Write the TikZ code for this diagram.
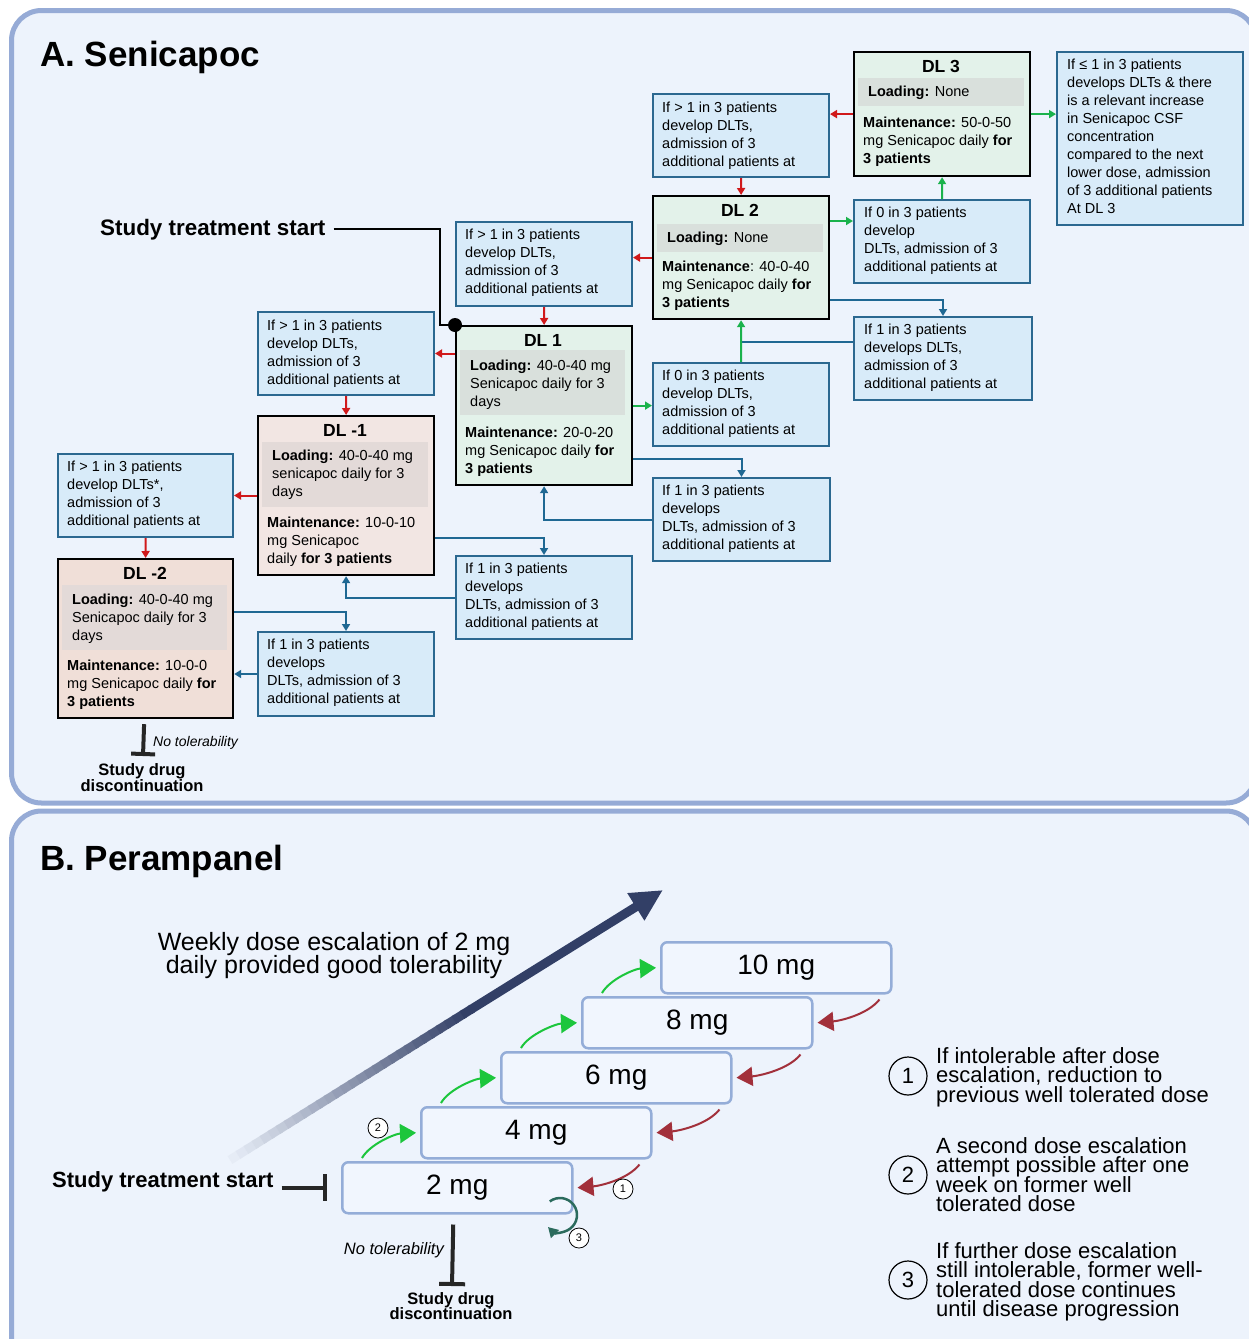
\documentclass[tikz,border=0pt]{standalone}
\usepackage{fontspec}
\setmainfont{Liberation Sans}
\usetikzlibrary{arrows.meta,calc}
\definecolor{panelbg}{HTML}{EDF3FC}
\definecolor{panelbd}{HTML}{96ABD6}
\definecolor{bluefill}{HTML}{D8EBF9}
\definecolor{bluebd}{HTML}{2B6890}
\definecolor{dlgreen}{HTML}{E3F2EA}
\definecolor{dlpink}{HTML}{F2E6E3}
\definecolor{dlpinkb}{HTML}{F0DFD8}
\definecolor{graygreen}{HTML}{D9E0DC}
\definecolor{graypink}{HTML}{E3DAD8}
\definecolor{redc}{HTML}{D0191B}
\definecolor{greenc}{HTML}{1AB24C}
\definecolor{bluec}{HTML}{1F6893}
\definecolor{navy}{HTML}{323F66}
\definecolor{doseb}{HTML}{94ADD8}
\definecolor{dosefill}{HTML}{F1F6FE}
\definecolor{garrow}{HTML}{1CC63C}
\definecolor{rarrow}{HTML}{A2303B}
\definecolor{tealc}{HTML}{2B6B5D}
\tikzset{
  panel/.style={draw=panelbd,line width=5pt,fill=panelbg,rounded corners=30pt},
  bbox/.style={draw=bluebd,line width=2pt,fill=bluefill,anchor=north west,inner sep=0pt},
  dlg/.style={draw=black,line width=2.2pt,fill=dlgreen,anchor=north west,inner sep=0pt,minimum width=176pt},
  dlp/.style={draw=black,line width=2.2pt,fill=dlpink,anchor=north west,inner sep=0pt,minimum width=176pt},
  grayg/.style={fill=graygreen,anchor=north west,inner sep=0pt,minimum width=166pt},
  grayp/.style={fill=graypink,anchor=north west,inner sep=0pt,minimum width=166pt},
  btext/.style={anchor=north west,inner sep=0pt,align=left,font={\fontsize{14.5}{18}\selectfont}},
  dltitle/.style={anchor=base,inner sep=0pt,font={\fontsize{17.5}{20}\selectfont\bfseries}},
  redarr/.style={draw=redc,line width=2pt,-{Triangle[length=7pt,width=8pt]}},
  grnarr/.style={draw=greenc,line width=2pt,-{Triangle[length=7pt,width=8pt]}},
  bluarr/.style={draw=bluec,line width=2pt,-{Triangle[length=7pt,width=8pt]}},
  bluline/.style={draw=bluec,line width=2pt},
  dosebox/.style={draw=doseb,line width=2.5pt,fill=dosefill,rounded corners=6pt,anchor=north west,
    minimum width=230pt,minimum height=51pt,inner sep=0pt,font={\fontsize{28}{30}\selectfont}},
  gup/.style={draw=garrow,line width=2pt,-{Triangle[length=16pt,width=19pt]}},
  rdown/.style={draw=rarrow,line width=2pt,-{Triangle[length=16pt,width=19pt]}},
  numc/.style={circle,draw=black,line width=1.2pt,minimum size=38pt,inner sep=0pt,font={\fontsize{22}{22}\selectfont}},
  numcs/.style={circle,draw=black,line width=0.8pt,fill=white,minimum size=20pt,inner sep=0pt,font={\fontsize{11}{11}\selectfont}},
  expl/.style={anchor=north west,inner sep=0pt,align=left,font={\fontsize{22}{19.6}\selectfont\lineskiplimit=-50pt}},
  stopbar/.style={draw=black!85,line width=4pt,-{Bar[width=26pt]}}
}
\begin{document}
\begin{tikzpicture}[x=1pt,y=-1pt]
\useasboundingbox[fill=white] (0,0) rectangle (1248,1339);
\path[panel] (11.5,10.5) rectangle (1256,803);
\path[panel] (11.5,811) rectangle (1256,1370);

% ---------- Panel A ----------
\node[anchor=base west,inner sep=0pt,font={\fontsize{35}{40}\selectfont\bfseries}] (titleA) at (40,66) {A. Senicapoc};

% DL boxes
\node[dlg,minimum height=124pt] (dl3) at (853,51) {};
\node[grayg,minimum height=28pt] (dl3g) at (858,78) {};
\node[dltitle] (dl3t) at (941,72) {DL 3};
\node[btext] (dl3l) at (868,85.5) {\textbf{Loading:} None};
\node[btext] (dl3m) at (863,116.5) {\textbf{Maintenance:} 50-0-50\\mg Senicapoc daily \textbf{for}\\\textbf{3 patients}};

\node[dlg,minimum height=123pt] (dl2) at (652,195) {};
\node[grayg,minimum height=28pt] (dl2g) at (657,224) {};
\node[dltitle] (dl2t) at (740,216) {DL 2};
\node[btext] (dl2l) at (667,231.5) {\textbf{Loading:} None};
\node[btext] (dl2m) at (662,260.5) {\textbf{Maintenance}: 40-0-40\\mg Senicapoc daily \textbf{for}\\\textbf{3 patients}};

\node[dlg,minimum height=159pt] (dl1) at (455,325) {};
\node[grayg,minimum height=65pt,minimum width=165pt] (dl1g) at (460,350) {};
\node[dltitle] (dl1t) at (543,346) {DL 1};
\node[btext] (dl1l) at (470,359.5) {\textbf{Loading:} 40-0-40 mg\\Senicapoc daily for 3\\days};
\node[btext] (dl1m) at (465,426.5) {\textbf{Maintenance:} 20-0-20\\mg Senicapoc daily \textbf{for}\\\textbf{3 patients}};

\node[dlp,minimum height=159pt] (dlm1) at (257,415) {};
\node[grayp,minimum height=65pt] (dlm1g) at (262,442) {};
\node[dltitle] (dlm1t) at (345,436) {DL -1};
\node[btext] (dlm1l) at (272,449.5) {\textbf{Loading:} 40-0-40 mg\\senicapoc daily for 3\\days};
\node[btext] (dlm1m) at (267,516.5) {\textbf{Maintenance:} 10-0-10\\mg Senicapoc\\daily \textbf{for 3 patients}};

\node[dlp,fill=dlpinkb,minimum height=159pt,minimum width=175pt] (dlm2) at (57,558) {};
\node[grayp,minimum height=65pt,minimum width=165pt] (dlm2g) at (62,585) {};
\node[dltitle] (dlm2t) at (145,579) {DL -2};
\node[btext] (dlm2l) at (72,593.5) {\textbf{Loading:} 40-0-40 mg\\Senicapoc daily for 3\\days};
\node[btext] (dlm2m) at (67,659.5) {\textbf{Maintenance:} 10-0-0\\mg Senicapoc daily \textbf{for}\\\textbf{3 patients}};

% Blue condition boxes
\node[bbox,minimum width=186pt,minimum height=173pt] (b3r) at (1056,51) {};
\node[btext] (b3rt) at (1067,58.5) {If ≤ 1 in 3 patients\\develops DLTs \& there\\is a relevant increase\\in Senicapoc CSF\\concentration\\compared to the next\\lower dose, admission\\of 3 additional patients\\At DL 3};

\node[bbox,minimum width=176pt,minimum height=83pt] (b3l) at (652,93) {};
\node[btext] (b3lt) at (662,101.5) {If > 1 in 3 patients\\develop DLTs,\\admission of 3\\additional patients at};

\node[bbox,minimum width=176pt,minimum height=83pt] (b2r0) at (853,199) {};
\node[btext] (b2r0t) at (864,206.5) {If 0 in 3 patients\\develop\\DLTs, admission of 3\\additional patients at};

\node[bbox,minimum width=178pt,minimum height=83pt] (b2r1) at (853,316) {};
\node[btext] (b2r1t) at (864,323.5) {If 1 in 3 patients\\develops DLTs,\\admission of 3\\additional patients at};

\node[bbox,minimum width=176pt,minimum height=84pt] (b2l) at (455,221) {};
\node[btext] (b2lt) at (465,228.5) {If > 1 in 3 patients\\develop DLTs,\\admission of 3\\additional patients at};

\node[bbox,minimum width=176pt,minimum height=83pt] (b1r0) at (652,362) {};
\node[btext] (b1r0t) at (662,369.5) {If 0 in 3 patients\\develop DLTs,\\admission of 3\\additional patients at};

\node[bbox,minimum width=177pt,minimum height=83pt] (b1r1) at (652,477) {};
\node[btext] (b1r1t) at (662,484.5) {If 1 in 3 patients\\develops\\DLTs, admission of 3\\additional patients at};

\node[bbox,minimum width=176pt,minimum height=83pt] (b1l) at (257,311) {};
\node[btext] (b1lt) at (267,319.5) {If > 1 in 3 patients\\develop DLTs,\\admission of 3\\additional patients at};

\node[bbox,minimum width=176pt,minimum height=83pt] (bm1r) at (455,555) {};
\node[btext] (bm1rt) at (465,562.5) {If 1 in 3 patients\\develops\\DLTs, admission of 3\\additional patients at};

\node[bbox,minimum width=175pt,minimum height=83pt] (bm1l) at (57,453) {};
\node[btext] (bm1lt) at (67,460.5) {If > 1 in 3 patients\\develop DLTs*,\\admission of 3\\additional patients at};

\node[bbox,minimum width=176pt,minimum height=84pt] (bm2r) at (257,631) {};
\node[btext] (bm2rt) at (267,638.5) {If 1 in 3 patients\\develops\\DLTs, admission of 3\\additional patients at};

% red connectors
\draw[redarr] (dl3.west) -- (dl3.west -| b3l.east);
\draw[redarr] (b3l.south) -- (dl2.north);
\draw[redarr] (dl2.west) -- (dl2.west -| b2l.east);
\draw[redarr] (b2l.south) -- (dl1.north);
\draw[redarr] (dl1.west |- b1l.east) -- (b1l.east);
\draw[redarr] (b1l.south) -- (dlm1.north);
\draw[redarr] (dlm1.west |- bm1l.east) -- (bm1l.east);
\draw[redarr] (bm1l.south) -- (dlm2.north);

% blue connectors
\coordinate (j14) at ($(dl2.south east)+(0,-20)$);
\draw[bluarr] (j14) -| (b2r1.north);
\coordinate (j15) at ($(b2r1.north west)+(0,26)$);
\draw[bluline] (j15) -- (j15 -| dl2.south);
\coordinate (j16) at ($(dl1.south east)+(0,-27)$);
\draw[bluarr] (j16) -| (b1r1.north);
\draw[bluarr] (b1r1.west) -| (dl1.south);
\coordinate (j18) at ($(dlm1.south east)+(0,-38)$);
\draw[bluarr] (j18) -| (bm1r.north);
\draw[bluarr] (bm1r.west) -| (dlm1.south);
\coordinate (j20) at ($(dlm2.north east)+(0,54)$);
\draw[bluarr] (j20) -| (bm2r.north);
\draw[bluarr] (bm2r.west) -- (bm2r.west -| dlm2.east);

% green connectors
\draw[grnarr] (dl3.east) -- (dl3.east -| b3r.west);
\draw[grnarr] (b2r0.north) -- (dl3.south);
\coordinate (g11) at ($(dl2.north east)+(0,26)$);
\draw[grnarr] (g11) -- (g11 -| b2r0.west);
\draw[grnarr] (b1r0.north) -- (dl2.south);
\draw[grnarr] (dl1.east) -- (dl1.east -| b1r0.west);

% study start
\node[anchor=base west,inner sep=0pt,font={\fontsize{22.4}{24}\selectfont\bfseries}] (startA) at (100,235) {Study treatment start};
\coordinate (elbowA) at ($(dl1.north west)+(-15,0)$);
\draw[line width=2.5pt,black] ([xshift=8pt]startA.east) -| (elbowA) -- (dl1.north west);
\fill[black] (dl1.north west) circle[radius=7pt];

% no tolerability A
\coordinate (stopA) at (143,756);
\draw[stopbar,-{Bar[width=24pt]}] ($(dlm2.south)+(-1.5,5)$) -- (stopA);
\node[anchor=base west,inner sep=0pt,font={\fontsize{14}{16}\selectfont\itshape}] (notolA) at (153,746) {No tolerability};
\node[anchor=base,inner sep=0pt,align=center,font={\fontsize{16.5}{16}\selectfont\bfseries\lineskiplimit=-50pt}] (discA) at (142,791) {Study drug\\discontinuation};

% ---------- Panel B ----------
\node[anchor=base west,inner sep=0pt,font={\fontsize{35}{40}\selectfont\bfseries}] (titleB) at (40,870) {B. Perampanel};

% big arrow
\coordinate (bgS) at (230,1160);
\coordinate (bgM) at (470,1010);
\coordinate (bgT) at (663,890);
\foreach \i in {0,...,29}{
  \pgfmathsetmacro\ta{\i/30}
  \pgfmathsetmacro\tb{(\i+1)/30+0.01}
  \pgfmathtruncatemacro\pc{4+96*\i/29}
  \draw[line width=9pt,color=navy!\pc!panelbg] ($(bgS)!\ta!(bgM)$) -- ($(bgS)!\tb!(bgM)$);
}
\draw[line width=9pt,navy,-{Triangle[length=32pt,width=30pt]}] (bgM) -- (bgT);

\node[anchor=north,inner sep=0pt,align=center,font={\fontsize{25}{23}\selectfont\lineskiplimit=-50pt}] (weekly) at (334,932) {Weekly dose escalation of 2 mg\\daily provided good tolerability};

% dose boxes
\node[dosebox] (d10) at (660,941) {10 mg};
\node[dosebox] (d8) at (581,996) {8 mg};
\node[dosebox] (d6) at (500,1051) {6 mg};
\node[dosebox] (d4) at (420,1106) {4 mg};
\node[dosebox] (d2) at (341,1161) {2 mg};

% escalation arrows
\draw[gup] ($(d2.north west)+(21,-3)$) .. controls +(8,-14) and +(-21,1) .. ($(d4.west)+(-4,0)$);
\draw[gup] ($(d4.north west)+(21,-3)$) .. controls +(8,-14) and +(-21,1) .. ($(d6.west)+(-4,0)$);
\draw[gup] ($(d6.north west)+(21,-3)$) .. controls +(8,-14) and +(-21,1) .. ($(d8.west)+(-4,0)$);
\draw[gup] ($(d8.north west)+(21,-3)$) .. controls +(8,-14) and +(-21,1) .. ($(d10.west)+(-4,0)$);

% reduction arrows
\draw[rdown] ($(d10.south east)+(-13,5)$) .. controls +(-12,15) and +(23,-2) .. ($(d8.east)+(4,0)$);
\draw[rdown] ($(d8.south east)+(-13,5)$) .. controls +(-12,15) and +(23,-2) .. ($(d6.east)+(4,0)$);
\draw[rdown] ($(d6.south east)+(-13,5)$) .. controls +(-12,15) and +(23,-2) .. ($(d4.east)+(4,0)$);
\draw[rdown] ($(d4.south east)+(-13,5)$) .. controls +(-12,15) and +(23,-2) .. ($(d2.east)+(4,0)$);

% loop arrow
\coordinate (loopc) at (560,1215);
\draw[draw=tealc,line width=2.5pt,-{Triangle[length=10pt,width=11pt]}] (loopc) ++(-127:17) arc[start angle=-127,end angle=135,radius=17];

% small numbered circles
\node[numcs] (n1s) at (623,1189) {1};
\node[numcs] (n2s) at (378,1128) {2};
\node[numcs] (n3s) at (579,1238) {3};

% study treatment start B
\node[anchor=base west,inner sep=0pt,font={\fontsize{22}{24}\selectfont\bfseries}] (startB) at (52,1187) {Study treatment start};
\coordinate (barB) at ($(d2.west)+(-14,0)$);
\draw[stopbar,-{Bar[width=27pt]}] ([xshift=8pt]startB.east |- d2.west) -- (barB);

% no tolerability B
\coordinate (stopB) at (452,1286);
\draw[stopbar] ($(d2.south)+(-4,10)$) -- (stopB);
\node[anchor=base east,inner sep=0pt,font={\fontsize{16.5}{18}\selectfont\itshape}] (notolB) at (444,1254) {No tolerability};
\node[anchor=base,inner sep=0pt,align=center,font={\fontsize{16.5}{15}\selectfont\bfseries\lineskiplimit=-50pt}] (discB) at (451,1319) {Study drug\\discontinuation};

% legend
\node[numc] (n1) at (908,1076) {1};
\node[numc] (n2) at (908,1175) {2};
\node[numc] (n3) at (908,1280) {3};
\node[expl] (e1) at (936,1047) {If intolerable after dose\\escalation, reduction to\\previous well tolerated dose};
\node[expl] (e2) at (936,1137) {A second dose escalation\\attempt possible after one\\week on former well\\tolerated dose};
\node[expl] (e3) at (936,1242) {If further dose escalation\\still intolerable, former well-\\tolerated dose continues\\until disease progression};
\end{tikzpicture}
\end{document}
